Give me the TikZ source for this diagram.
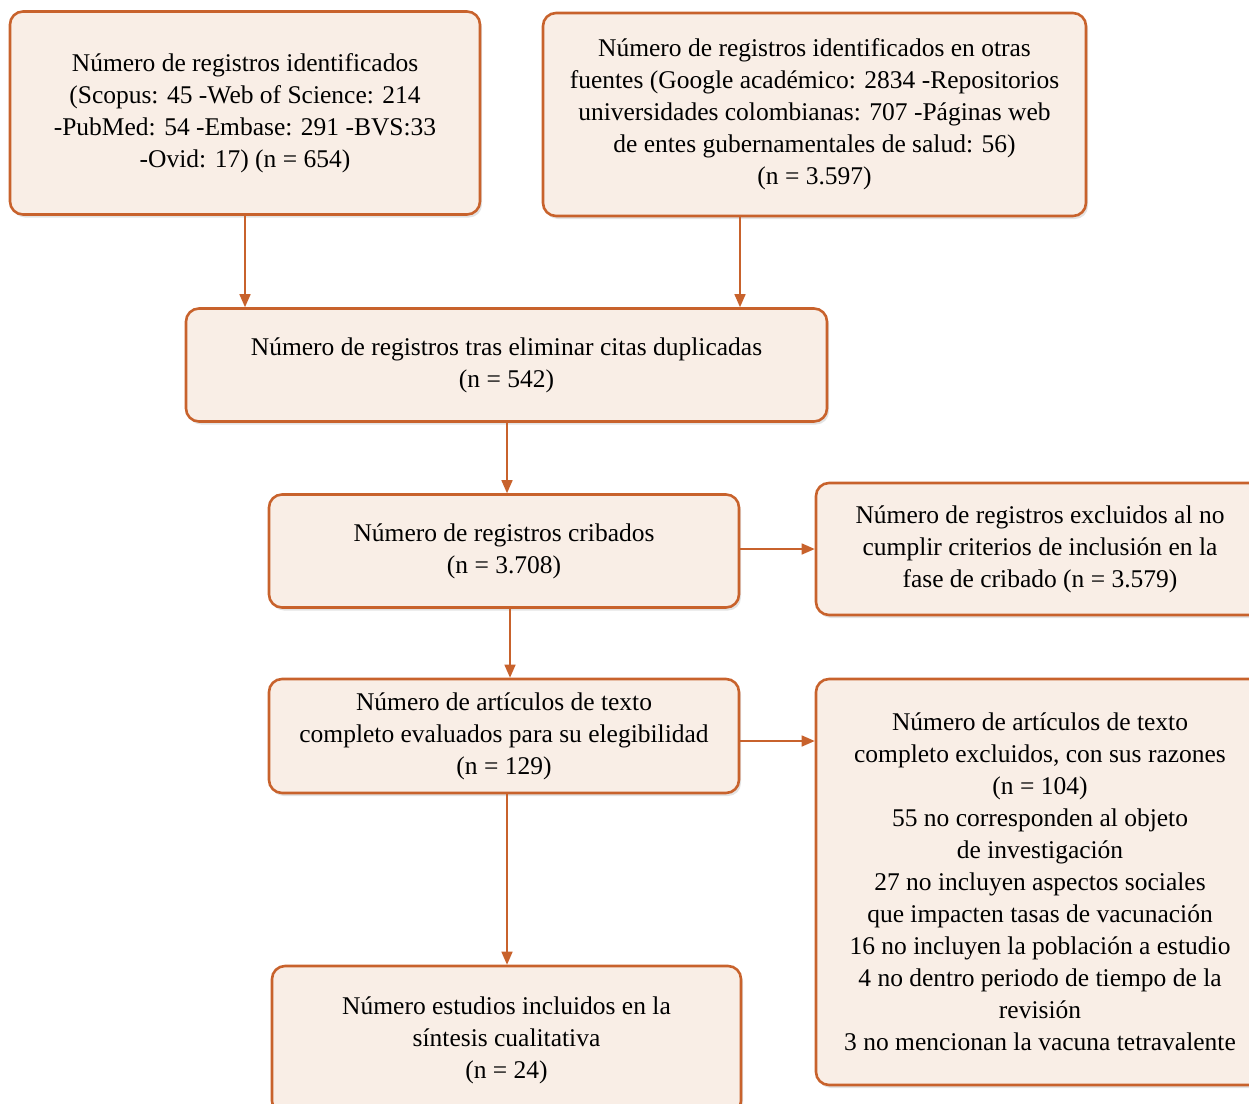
\documentclass[tikz,border=0pt]{standalone}
\usepackage{fontspec}
\setmainfont{Liberation Serif}
\usetikzlibrary{shadows,arrows.meta}
\definecolor{boxline}{HTML}{C8622C}
\definecolor{boxfill}{HTML}{F9EEE6}
\newcommand{\eqn}{\ =\ }
\tikzset{
  flowbox/.style={draw=boxline, line width=2.6pt, fill=boxfill, rounded corners=13pt,
    align=center, inner sep=0pt, text=black,
    font=\fontsize{25.5}{32}\selectfont,
    drop shadow={opacity=0.22, shadow xshift=2pt, shadow yshift=-3pt}},
  flowarrow/.style={draw=boxline, line width=1.5pt, -{Triangle[length=13pt,width=11pt]}}
}
\begin{document}
\begin{tikzpicture}[x=1pt,y=-1pt]
\useasboundingbox (0,0) rectangle (1249,1103);
\clip (0,0) rectangle (1249,1103);
\node[flowbox, minimum width=470pt, minimum height=203pt] (A) at (245,113)
  {Número de registros identificados\\(Scopus: 45 -Web of Science: 214\\-PubMed: 54 -Embase: 291 -BVS:33\\-Ovid: 17) (n\eqn654)};
\node[flowbox, minimum width=543pt, minimum height=203pt] (B) at (814.5,114.5)
  {Número de registros identificados en otras\\fuentes (Google académico: 2834 -Repositorios\\universidades colombianas: 707 -Páginas web\\de entes gubernamentales de salud: 56)\\(n\eqn3.597)};
\node[flowbox, minimum width=641pt, minimum height=113pt] (C) at (506.5,365)
  {Número de registros tras eliminar citas duplicadas\\(n\eqn542)};
\node[flowbox, minimum width=470pt, minimum height=113pt] (D) at (504,551)
  {Número de registros cribados\\(n\eqn3.708)};
\node[flowbox, minimum width=448pt, minimum height=132pt] (E) at (1040,549)
  {Número de registros excluidos al no\\cumplir criterios de inclusión en la\\fase de cribado (n\eqn3.579)};
\node[flowbox, minimum width=470pt, minimum height=114pt] (F) at (504,736)
  {Número de artículos de texto\\completo evaluados para su elegibilidad\\(n\eqn129)};
\node[flowbox, minimum width=448pt, minimum height=406pt] (G) at (1040,882)
  {Número de artículos de texto\\completo excluidos, con sus razones\\(n\eqn104)\\55 no corresponden al objeto\\de investigación\\27 no incluyen aspectos sociales\\que impacten tasas de vacunación\\16 no incluyen la población a estudio\\4 no dentro periodo de tiempo de la\\revisión\\3 no mencionan la vacuna tetravalente};
\node[flowbox, minimum width=469pt, minimum height=148pt] (H) at (506.5,1040)
  {Número estudios incluidos en la\\síntesis cualitativa\\(n\eqn24)};
\draw[flowarrow] (A.south -| 245,0) -- (C.north -| 245,0);
\draw[flowarrow] (B.south -| 740,0) -- (C.north -| 740,0);
\draw[flowarrow] (C.south -| 507,0) -- (D.north -| 507,0);
\draw[flowarrow] (D.south -| 510,0) -- (F.north -| 510,0);
\draw[flowarrow] (D.east |- 0,549) -- (E.west |- 0,549);
\draw[flowarrow] (F.east |- 0,741) -- (G.west |- 0,741);
\draw[flowarrow] (F.south -| 507,0) -- (H.north -| 507,0);
\end{tikzpicture}
\end{document}
